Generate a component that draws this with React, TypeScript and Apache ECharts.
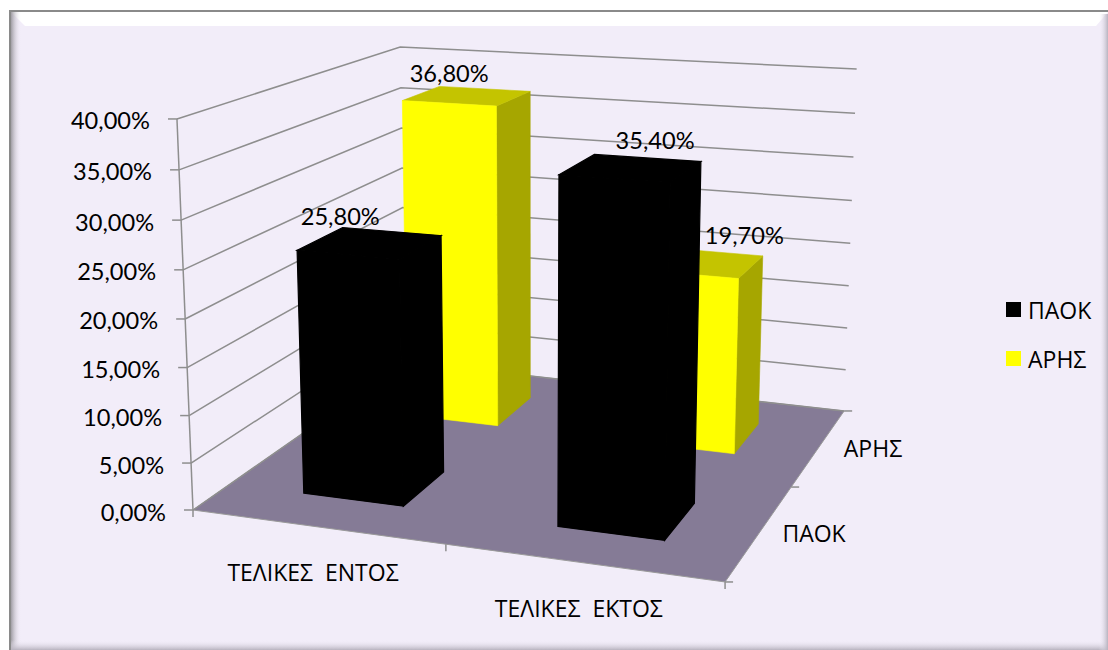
import React, { useEffect, useRef } from "react";
import * as echarts from "echarts";

const categories = ["ΤΕΛΙΚΕΣ  ΕΝΤΟΣ", "ΤΕΛΙΚΕΣ  ΕΚΤΟΣ"];
const depthNames = ["ΠΑΟΚ", "ΑΡΗΣ"];
const paokValues = [25.8, 35.4];
const arisValues = [36.8, 19.7];
const yTicks = [0, 5, 10, 15, 20, 25, 30, 35, 40];
const Y_MAX = 40;

const FONT = '23.6px Lato, "Open Sans", sans-serif';
const GREEK_FONT = '23px "Open Sans", sans-serif';
const LINE = "#8e8e8e";
const BG = "#f2edf9";
const FLOOR = "#857b96";

const GRID = { left: 193, top: 119, width: 532, height: 391 };

// Projection of the chart box (u along categories, v in depth, w in height) to the page.
function project(u: number, v: number, w: number): [number, number] {
  const den = 1 - 0.0685 * u + 0.2304 * v - 0.045 * w;
  const x = (482.4 * u + 305.4 * v + 193 - 24 * w) / den;
  const y = (32.1 * u - 64.6 * v + 510 - 396.4 * w) / den + w * (-9.3 * u + 5.7 * v);
  return [x, y];
}

const fmt = (v: number) => v.toFixed(2).replace(".", ",") + "%";

const BAR_STYLES: Record<string, { front: string; top: string; side: string }> = {
  ΠΑΟΚ: { front: "#000000", top: "#000000", side: "#000000" },
  ΑΡΗΣ: { front: "#ffff00", top: "#c4c400", side: "#a6a600" },
};
const LABEL_OFFSETS: Record<string, [number, number][]> = {
  ΠΑΟΚ: [[-30, -27], [24, -28]],
  ΑΡΗΣ: [[-18, -23], [42, -28]],
};

function uw(api: any, value: number): [number, number] {
  const p = api.coord([0, value]);
  return [(p[0] - GRID.left) / GRID.width, (GRID.top + GRID.height - p[1]) / GRID.height];
}

function barSeries(name: string, values: number[], depthIndex: number, z: number) {
  const st = BAR_STYLES[name];
  const strokeWidth = name === "ΠΑΟΚ" ? 1.2 : 0.6;
  return {
    type: "custom",
    name,
    z,
    silent: true,
    itemStyle: { color: st.front },
    encode: { x: 0, y: 1 },
    data: values.map((v, i) => [i, v]),
    renderItem: (_p: any, api: any) => {
      const idx = api.value(0);
      const val = api.value(1);
      const base = api.coord([idx, 0]);
      const top = api.coord([idx, val]);
      const band = api.size([1, 0])[0];
      const uc = (base[0] - GRID.left) / GRID.width;
      const ub = (band * 0.4) / GRID.width;
      const vc = (depthIndex + 0.5) / depthNames.length;
      const vb = 0.4 / depthNames.length;
      const h = (base[1] - top[1]) / GRID.height;
      const u0 = uc - ub / 2, u1 = uc + ub / 2, v0 = vc - vb / 2, v1 = vc + vb / 2;
      const poly = (pts: [number, number][], fill: string) => ({
        type: "polygon",
        shape: { points: pts },
        style: { fill, stroke: fill, lineWidth: strokeWidth },
      });
      return {
        type: "group",
        children: [
          poly([project(u1, v0, 0), project(u1, v1, 0), project(u1, v1, h), project(u1, v0, h)], st.side),
          poly([project(u0, v0, h), project(u1, v0, h), project(u1, v1, h), project(u0, v1, h)], st.top),
          poly([project(u0, v0, 0), project(u1, v0, 0), project(u1, v0, h), project(u0, v0, h)], st.front),
        ],
      };
    },
  };
}

function dataLabelSeries(name: string, values: number[], depthIndex: number) {
  return {
    type: "custom",
    name: name + " labels",
    z: 8,
    silent: true,
    encode: { x: 0, y: 1 },
    data: values.map((v, i) => [i, v]),
    renderItem: (_p: any, api: any) => {
      const idx = api.value(0);
      const val = api.value(1);
      const base = api.coord([idx, 0]);
      const top = api.coord([idx, val]);
      const uc = (base[0] - GRID.left) / GRID.width;
      const vc = (depthIndex + 0.5) / depthNames.length;
      const h = (base[1] - top[1]) / GRID.height;
      const c = project(uc, vc, h);
      const off = LABEL_OFFSETS[name][idx];
      return {
        type: "text",
        style: {
          text: fmt(val),
          x: c[0] + off[0],
          y: c[1] + off[1],
          align: "center",
          verticalAlign: "middle",
          font: FONT,
          fill: "#000",
        },
      };
    },
  };
}

function buildOption() {
  const floorSeries = {
    type: "custom",
    name: "floor",
    z: 1,
    silent: true,
    data: [[0, 0]],
    encode: { x: 0, y: 1 },
    renderItem: () => ({
      type: "group",
      children: [
        {
          type: "polygon",
          shape: { points: [project(0, 0, 0), project(1, 0, 0), project(1, 1, 0), project(0, 1, 0)] },
          style: { fill: FLOOR, stroke: "#9a9a9a", lineWidth: 1 },
        },
        { type: "polyline", shape: { points: [project(0, 0, 1), project(0, 0, 0)] }, style: { stroke: LINE, lineWidth: 1.5, fill: "none" } },
        ...[0, 0.493, 1].map((u) => {
          const p = project(u, 0, 0);
          return { type: "line", shape: { x1: p[0], y1: p[1], x2: p[0], y2: p[1] + 7 }, style: { stroke: LINE, lineWidth: 1.5 } };
        }),
        ...[0, 0.5, 1].map((v) => {
          const p = project(1, v, 0);
          return { type: "line", shape: { x1: p[0], y1: p[1], x2: p[0] + 8, y2: p[1] }, style: { stroke: LINE, lineWidth: 1.5 } };
        }),
      ],
    }),
  };

  const wallSeries = {
    type: "custom",
    name: "walls",
    z: 1,
    silent: true,
    encode: { x: 0, y: 1 },
    data: yTicks.map((t) => [0, t]),
    renderItem: (_p: any, api: any) => {
      const val = api.value(1);
      const w = uw(api, val)[1];
      const a = project(0, 0, w);
      const b = project(0, 1, w);
      const c = project(1, 1, w);
      return {
        type: "group",
        children: [
          { type: "polyline", shape: { points: [a, b, c] }, style: { stroke: LINE, lineWidth: 1.5, fill: "none" } },
          { type: "line", shape: { x1: a[0] - 9, y1: a[1], x2: a[0], y2: a[1] }, style: { stroke: LINE, lineWidth: 1.5 } },
          {
            type: "text",
            style: { text: fmt(val), x: a[0] - 27, y: a[1] + 1.5, align: "right", verticalAlign: "middle", font: FONT, fill: "#000" },
          },
        ],
      };
    },
  };

  const catLabelSeries = {
    type: "custom",
    name: "category labels",
    z: 8,
    silent: true,
    encode: { x: 0, y: 1 },
    data: categories.map((_, i) => [i, 0]),
    renderItem: (_p: any, api: any) => {
      const idx = api.value(0);
      const base = api.coord([idx, 0]);
      const p = project((base[0] - GRID.left) / GRID.width, 0, 0);
      return {
        type: "text",
        style: { text: categories[idx], x: p[0] - 6, y: p[1] + 45, align: "center", verticalAlign: "middle", font: GREEK_FONT, fill: "#000" },
      };
    },
  };

  const depthLabelSeries = {
    type: "custom",
    name: "depth labels",
    z: 8,
    silent: true,
    encode: { x: 0, y: 1 },
    data: depthNames.map((_, i) => [i, 0]),
    renderItem: (_p: any, api: any) => {
      const idx = api.value(0);
      const p = project(1, (idx + 0.5) / depthNames.length, 0);
      return {
        type: "text",
        style: { text: depthNames[idx], x: p[0] + 54, y: p[1] + 1, align: "center", verticalAlign: "middle", font: GREEK_FONT, fill: "#000" },
      };
    },
  };

  const W = 1108, H = 650;
  return {
    animation: false,
    backgroundColor: "#ffffff",
    grid: { left: GRID.left, top: GRID.top, width: GRID.width, height: GRID.height },
    xAxis: { type: "category", data: categories, show: false },
    yAxis: { type: "value", min: 0, max: Y_MAX, interval: 5, show: false },
    legend: {
      data: depthNames.map((name) => ({ name, icon: "path://M0 0H15V15H0Z" })),
      orient: "vertical",
      left: 1001,
      top: 293,
      itemWidth: 15,
      itemHeight: 15,
      itemGap: 26,
      selectedMode: false,
      itemStyle: { borderWidth: 0 },
      textStyle: { fontFamily: '"Open Sans", sans-serif', fontSize: 23, color: "#000", padding: [0, 0, 0, 2] },
    },
    graphic: {
      elements: [
        { type: "rect", z: -10, silent: true, shape: { x: 10, y: 11, width: W - 10, height: H - 11 }, style: { fill: BG } },
        {
          type: "polygon", z: -9, silent: true,
          shape: { points: [[11, 12], [W, 12], [W - 12, 26], [25, 26]] },
          style: { fill: "#ffffff" },
        },
        {
          type: "rect", z: -8, silent: true,
          shape: { x: 10, y: 12, width: 11, height: H - 12 },
          style: { fill: { type: "linear", x: 0, y: 0, x2: 1, y2: 0, colorStops: [{ offset: 0, color: "#8f8d92" }, { offset: 1, color: "rgba(242,237,249,0)" }] } },
        },
        {
          type: "rect", z: -8, silent: true,
          shape: { x: 10, y: 640, width: W - 10, height: 10 },
          style: { fill: { type: "linear", x: 0, y: 0, x2: 0, y2: 1, colorStops: [{ offset: 0, color: "rgba(242,237,249,0)" }, { offset: 1, color: "#b8b3bf" }] } },
        },
        {
          type: "rect", z: -8, silent: true,
          shape: { x: W - 9, y: 14, width: 9, height: H - 14 },
          style: { fill: { type: "linear", x: 0, y: 0, x2: 1, y2: 0, colorStops: [{ offset: 0, color: "rgba(242,237,249,0)" }, { offset: 1, color: "#b8b3bf" }] } },
        },
        { type: "line", z: -7, silent: true, shape: { x1: 9, y1: 11, x2: W, y2: 11 }, style: { stroke: "#8a8a8a", lineWidth: 2 } },
        { type: "line", z: -7, silent: true, shape: { x1: 10, y1: 11, x2: 10, y2: H }, style: { stroke: "#8a8a8a", lineWidth: 2 } },
      ],
    },
    series: [
      floorSeries,
      wallSeries,
      barSeries("ΑΡΗΣ", arisValues, 1, 3),
      barSeries("ΠΑΟΚ", paokValues, 0, 4),
      dataLabelSeries("ΑΡΗΣ", arisValues, 1),
      dataLabelSeries("ΠΑΟΚ", paokValues, 0),
      catLabelSeries,
      depthLabelSeries,
    ],
  };
}

export default function App() {
  const ref = useRef<HTMLDivElement>(null);
  useEffect(() => {
    const chart = echarts.init(ref.current!, null, { renderer: "svg" });
    chart.setOption(buildOption() as any);
    return () => chart.dispose();
  }, []);
  return <div ref={ref} style={{ position: "absolute", left: 0, top: 0, width: 1108, height: 650 }} />;
}
